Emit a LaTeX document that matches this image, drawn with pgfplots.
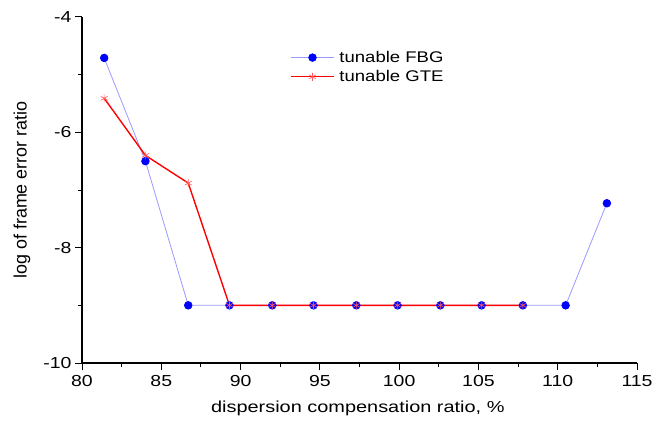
\documentclass[border=0pt]{standalone}
\usepackage{fontspec}
\setmainfont{Liberation Sans}
\usepackage{pgfplots}
\pgfplotsset{compat=1.18}
\begin{document}
\begin{tikzpicture}
\begin{axis}[
    scale only axis,
    width=555bp, height=346bp,
    xmin=80, xmax=115, ymin=-10, ymax=-4,
    axis x line=bottom, axis y line=left,
    axis line style={-, line width=1.2pt},
    xtick={80,85,...,115}, ytick={-10,-8,-6,-4},
    minor x tick num=1, minor y tick num=1,
    tick align=outside,
    major tick length=7bp, minor tick length=4bp,
    every tick/.style={black, line width=1pt},
    /pgf/number format/assume math mode=true,
    tick label style={font=\fontsize{16}{18}\selectfont},
    xticklabel={\scalebox{1.22}[1]{\pgfmathprintnumber{\tick}}},
    yticklabel={\scalebox{1.22}[1]{\pgfmathprintnumber{\tick}}},
    xticklabel style={yshift=-2bp},
    xlabel={\scalebox{1.25}[1]{dispersion compensation ratio, \%}},
    ylabel={log of frame error ratio},
    xlabel style={font=\fontsize{16}{18}\selectfont, at={(axis description cs:0.497,-0.13)}, anchor=center},
    ylabel style={font=\fontsize{18}{20}\selectfont, at={(axis description cs:-0.108,0.5)}, anchor=center},
    legend style={draw=none, fill=none, at={(0.37,0.855)}, anchor=west,
        font=\fontsize{15.5}{18}\selectfont, row sep=2.5bp, column sep=3bp},
    legend cell align=left,
    legend image code/.code={\draw[mark repeat=2,mark phase=2] plot coordinates {(0cm,0cm) (0.75cm,0cm) (1.5cm,0cm)};},
    clip=false,
]
\addplot[blue!40, line width=0.8pt, mark=*, mark size=3.8bp,
    mark options={fill=blue, draw=blue}] coordinates {
    (81.4,-4.71) (84.0,-6.50) (86.7,-9) (89.3,-9) (92.0,-9) (94.6,-9) (97.3,-9)
    (99.9,-9) (102.6,-9) (105.2,-9) (107.8,-9) (110.5,-9) (113.1,-7.23)
};
\addlegendentry{\scalebox{1.2}[1]{tunable FBG}}
\addplot[red, line width=1.4pt, mark=asterisk, mark size=4bp,
    mark options={red!65, line width=0.6pt}] coordinates {
    (81.4,-5.41) (84.0,-6.40) (86.7,-6.88) (89.3,-9) (92.0,-9) (94.6,-9) (97.3,-9)
    (99.9,-9) (102.6,-9) (105.2,-9) (107.8,-9)
};
\addlegendentry{\scalebox{1.2}[1]{tunable GTE}}
\end{axis}
\pgfresetboundingbox
\useasboundingbox (-82bp,-64bp) rectangle (571bp,363bp);
\end{tikzpicture}
\end{document}
